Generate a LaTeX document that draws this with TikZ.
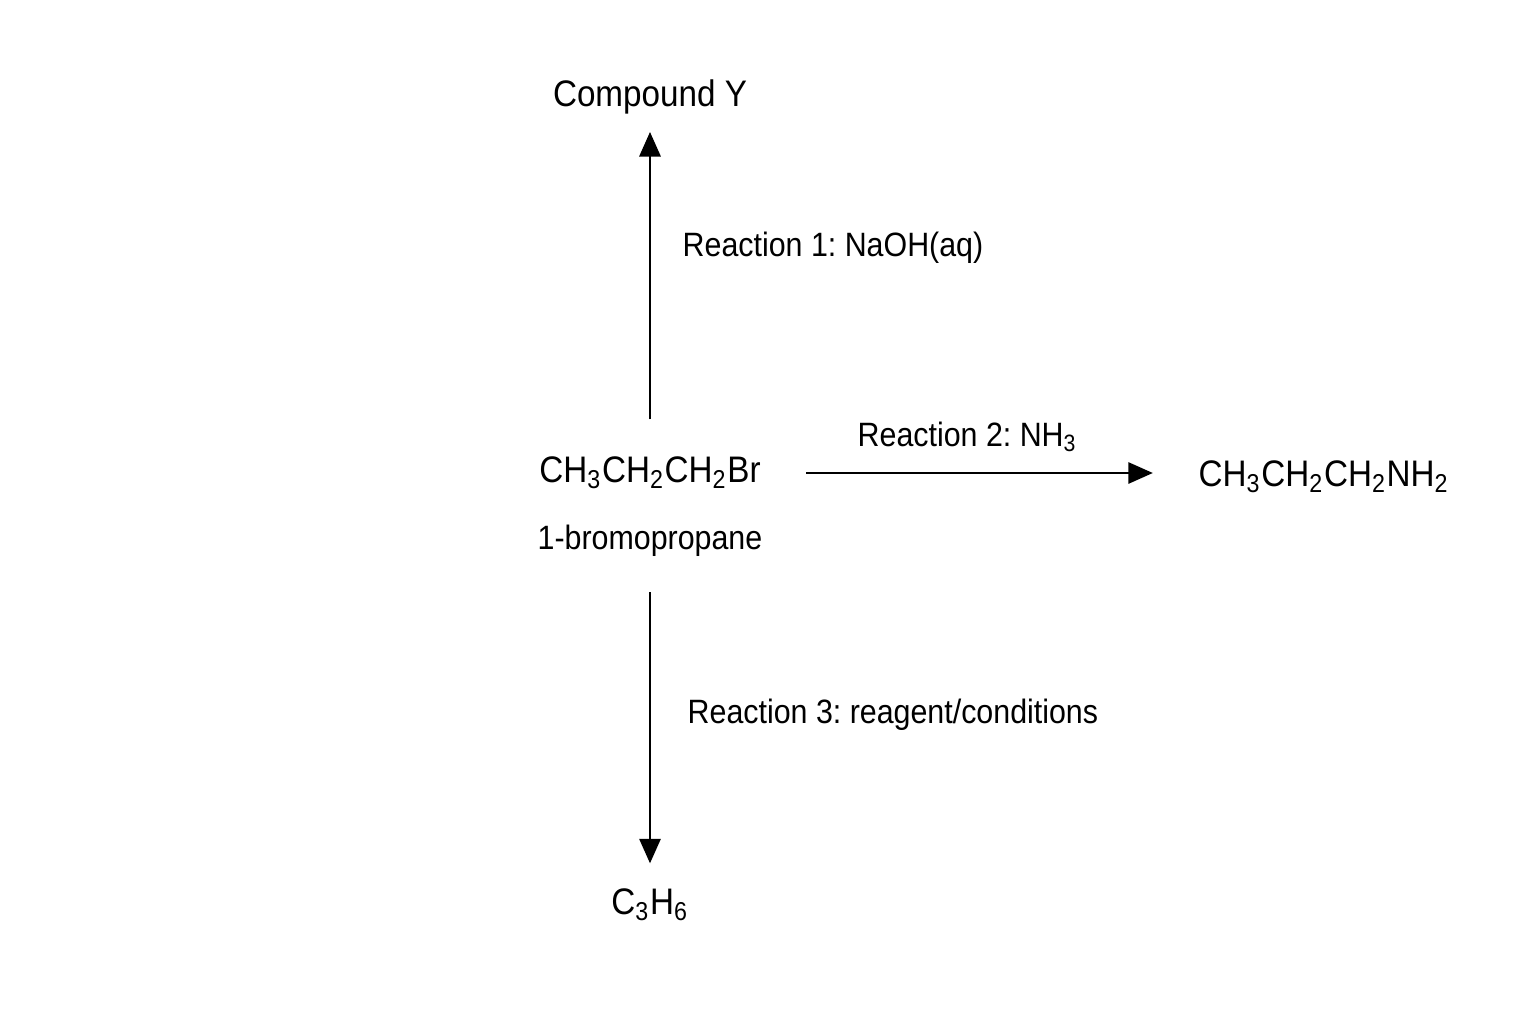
\documentclass[tikz,border=0pt]{standalone}
\usepackage{fontspec}
\setmainfont{Liberation Sans}[FakeStretch=0.9]
\usetikzlibrary{arrows.meta}
\frenchspacing
\begin{document}
\begin{tikzpicture}[x=0.01cm, y=-0.01cm, >={Triangle[length=7pt,width=6pt]},
    chem/.style={inner sep=0pt, font=\fontsize{10.5}{12}\selectfont},
    lab/.style={inner sep=0pt, anchor=west, font=\fontsize{9.6}{11}\selectfont},
    rxn/.style={->, line width=0.8pt}]
  \useasboundingbox (0,0) rectangle (1536,1024);
  % species
  \node[chem] (br) at (650,473) {CH\textsubscript{3}CH\textsubscript{2}CH\textsubscript{2}Br};
  \node[chem, font=\fontsize{9.6}{11}\selectfont] (name) at (650,541) {1-bromopropane};
  \node[chem] (y) at (650,97) {Compound Y};
  \node[chem] (amine) at (1324,477) {CH\textsubscript{3}CH\textsubscript{2}CH\textsubscript{2}NH\textsubscript{2}};
  \node[chem] (alkene) at (650,905) {C\textsubscript{3}H\textsubscript{6}};

  % reactions
  \draw[rxn, shorten <=0.37cm, shorten >=0.17cm] (br) -- (y);
  \draw[rxn, shorten <=0.45cm, shorten >=0.45cm] (br.east) -- (br.east -| amine.west);
  \draw[rxn, shorten <=0.35cm, shorten >=0.25cm] (name) -- (alkene);

  \node[lab] (r1) at (682,248) {Reaction 1: NaOH(aq)};
  \node[lab] (r2) at (857,437) {Reaction 2: NH\textsubscript{3}};
  \node[lab] (r3) at (687,715) {Reaction 3: reagent/conditions};
\end{tikzpicture}
\end{document}
